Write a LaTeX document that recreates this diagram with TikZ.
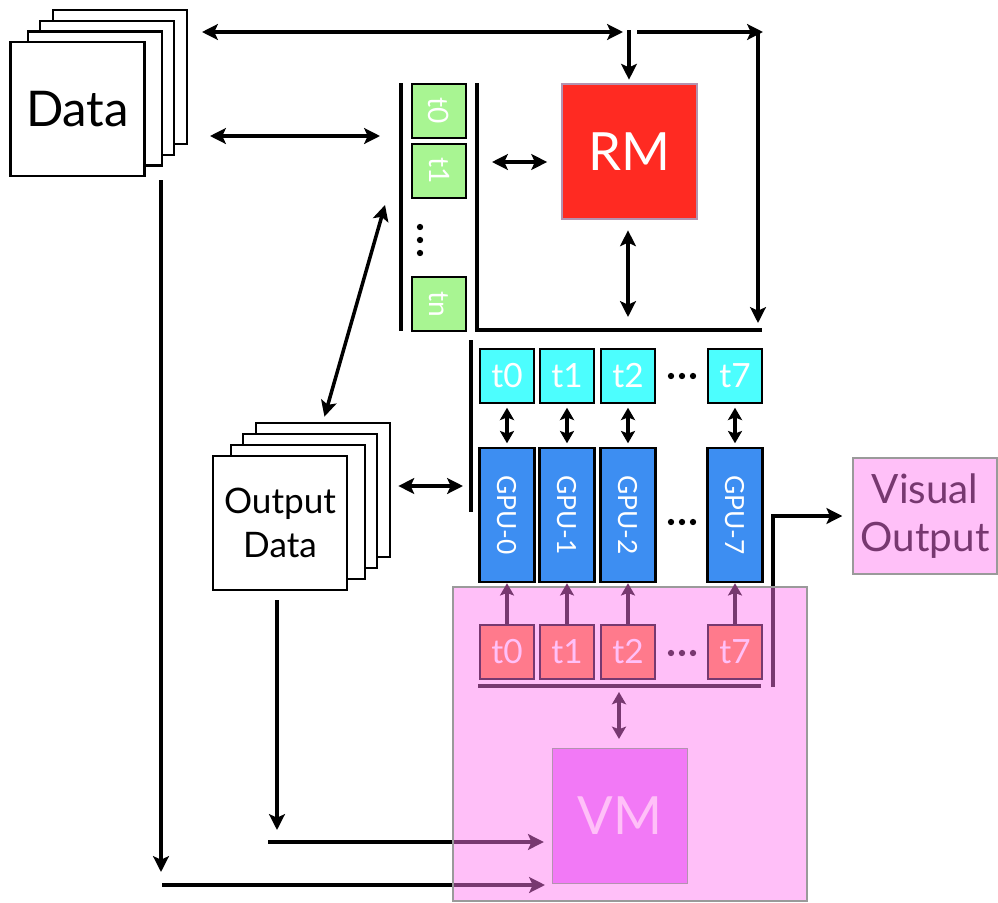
\documentclass[tikz,border=0pt]{standalone}
\usepackage{fontspec}
\setmainfont{Lato}
\usetikzlibrary{arrows.meta, positioning}
\definecolor{cgreen}{HTML}{A8F592}
\definecolor{ccyan}{HTML}{4CFEFE}
\definecolor{cblue}{HTML}{3D8EF2}
\definecolor{cred}{HTML}{FF2A22}
\definecolor{crose}{HTML}{FF7A8C}
\definecolor{cmagenta}{HTML}{F279F6}
\definecolor{cplum}{HTML}{773870}
\definecolor{ctint}{HTML}{FF78F0}
\definecolor{cpink}{HTML}{FFC0F8}
\definecolor{cframe}{HTML}{9A9A9A}
\pgfdeclarelayer{lines}
\pgfdeclarelayer{tint}
\pgfsetlayers{lines,tint,main}
\tikzset{
  every picture/.style={line width=2pt},
  wire/.style={line width=2pt},
  sheet/.style={draw, fill=white, minimum size=2.68cm, inner sep=0pt, line width=1.5pt, align=center},
  tbox/.style={draw, fill=#1, minimum size=1.08cm, inner sep=0pt, line width=1.4pt, text=white, font=\fontsize{19}{19}\selectfont},
  gpu/.style={draw, fill=cblue, rotate=-90, minimum width=2.68cm, minimum height=1.1cm, inner sep=0pt, line width=1.4pt, text=white, font=\fontsize{15}{15}\selectfont},
  bigbox/.style={draw=cplum!55, fill=#1, minimum size=2.7cm, inner sep=0pt, line width=0.9pt, text=white, font=\fontsize{30}{30}\selectfont},
  arrow/.style={wire, -{Stealth[length=9pt, width=9pt, inset=2pt]}},
  dbl/.style={wire, {Stealth[length=9pt, width=9pt, inset=2pt]}-{Stealth[length=9pt, width=9pt, inset=2pt]}},
  smalldbl/.style={wire, {Stealth[length=7pt, width=8pt, inset=1.5pt]}-{Stealth[length=7pt, width=8pt, inset=1.5pt]}},
  parrow/.style={draw=cplum, line width=1.8pt, -{Stealth[length=7pt, width=8pt, inset=1.5pt]}},
  pdbl/.style={draw=cplum, line width=1.8pt, {Stealth[length=7pt, width=8pt, inset=1.5pt]}-{Stealth[length=7pt, width=8pt, inset=1.5pt]}},
}

\begin{document}
\begin{tikzpicture}[x=0.02cm, y=-0.02cm]
\useasboundingbox (0,0) rectangle (998,903);

% input data stack
\node[sheet] (data3) at (120,77) {};
\node[sheet] (data2) at (107,88) {};
\node[sheet] (data1) at (95,98.5) {};
\node[sheet, font=\fontsize{28}{28}\selectfont] (data) at (77.5,109) {Data};

% output data stack
\node[sheet] (out3) at (323,490) {};
\node[sheet] (out2) at (310,501) {};
\node[sheet] (out1) at (298,512) {};
\node[sheet, font=\fontsize{20}{25}\selectfont] (out) at (280,523) {Output\\Data};

% resource manager and its task queue
\node[bigbox=cred] (rm) at (629.5,151.5) {RM};
\node[tbox=cgreen, rotate=-90, font=\fontsize{16}{16}\selectfont] (g0) at (439,111) {t0};
\node[tbox=cgreen, rotate=-90, font=\fontsize{16}{16}\selectfont] (g1) at (439,171) {t1};
\node[tbox=cgreen, rotate=-90, font=\fontsize{16}{16}\selectfont] (gn) at (439,304) {tn};

% gpus with their tasks
\foreach \i/\x in {0/507,1/567,2/628,7/735} {
  \node[tbox=ccyan] (c\i) at (\x,376) {t\i};
  \node[gpu] (gpu\i) at (\x,515) {GPU-\i};
  \node[tbox=crose, draw=cplum, text=cpink] (r\i) at (\x,652) {t\i};
}

\node[bigbox=cmagenta, text=cpink] (vm) at (620,816) {VM};
\node[draw=cframe, fill=cpink, line width=1.2pt, minimum width=2.88cm, minimum height=2.32cm, align=center,
  text=cplum, font=\fontsize{23}{27}\selectfont] (vis) at (925,516) {Visual\\Output};

% free ends
\coordinate (top1) at (202,32);
\coordinate (top2) at (623,32);
\coordinate (split) at (629,30);
\coordinate (right1) at (637,32);
\coordinate (right2) at (763,32);
\coordinate (drop1) at (758,33);
\coordinate (drop2) at (758,323);
\coordinate (floor) at (628,317);
\coordinate (dg1) at (210,136);
\coordinate (dg2) at (380,136);
\coordinate (gr) at (492,162);
\coordinate (diag) at (385,205);
\coordinate (gline) at (463,486);
\coordinate (vout) at (773,687);
\coordinate (ddown) at (161,180);
\coordinate (dend) at (161,872);
\coordinate (din) at (162,885);
\coordinate (dvm) at (545,885);
\coordinate (odown) at (277,600);
\coordinate (oend) at (277,830);
\coordinate (oin) at (268,842);
\coordinate (ul) at (619,692);

\begin{pgfonlayer}{lines}
  \draw[wire] (401,83) -- (401,331);
  \draw[wire] (477,83) -- (477,330) -- (762,330);
  \draw[wire] (471,340) -- (471,512);
  \draw[dbl] (top1) -- (top2);
  \draw[arrow, shorten >=2pt] (split) -- (split |- rm.north);
  \draw[arrow] (right1) -- (right2);
  \draw[arrow] (drop1) -- (drop2);
  \draw[dbl, shorten <=6pt] (rm.south -| floor) -- (floor);
  \draw[dbl] (dg1) -- (dg2);
  \draw[dbl, shorten >=8pt] (gr) -- (gr -| rm.west);
  \draw[dbl, shorten >=3pt] (diag) -- (out3.north);
  \draw[dbl, shorten <=4pt] (gline -| out3.east) -- (gline);
  \foreach \i in {0,1,2,7}
    \draw[smalldbl, shorten <=2pt, shorten >=2pt] (c\i) -- (gpu\i);
  \draw[arrow, shorten >=5.5pt] (vout) |- (vis.west);
  \draw[arrow] (ddown) -- (dend);
  \draw[arrow] (din) -- (dvm);
  \draw[arrow] (odown) -- (oend);
  \draw[arrow, shorten >=4.5pt] (oin) -- (oin -| vm.west);
  \foreach \y in {376,522,653}
    \foreach \x in {671,682,693}
      \fill (\x,\y) circle (1.8pt);
  \foreach \y in {227,240,253}
    \fill (420,\y) circle (1.8pt);
\end{pgfonlayer}

\begin{pgfonlayer}{tint}
  \node[draw=cframe, fill=ctint, fill opacity=0.47, line width=1.2pt, minimum width=7.08cm, minimum height=6.28cm] (vmzone) at (630,744) {};
\end{pgfonlayer}

% visualisation side
\foreach \i in {0,1,2,7}
  \draw[parrow] (r\i) -- (gpu\i);
\draw[cplum, line width=2.6pt] (478,686) -- (761,686);
\draw[pdbl, shorten >=5pt] (ul) -- (ul |- vm.north);
\end{tikzpicture}
\end{document}
